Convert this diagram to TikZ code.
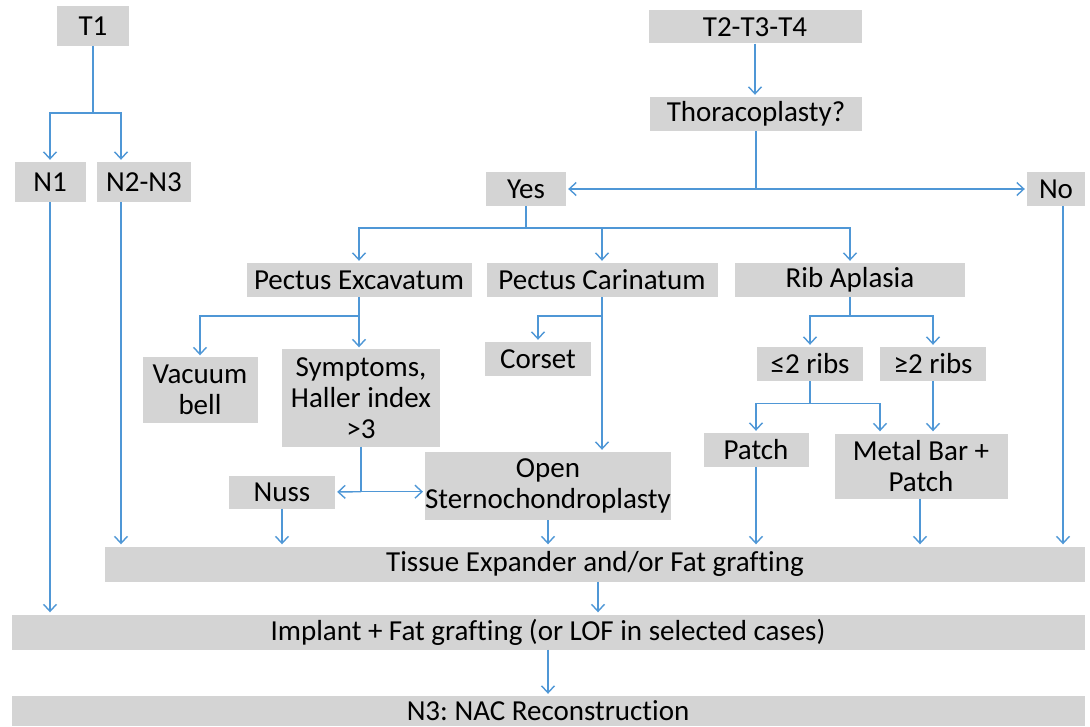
\documentclass[tikz,border=0pt]{standalone}
\usepackage{fontspec}
\setmainfont{Carlito}[Ligatures=NoCommon]
\usepackage{tikz}
\usetikzlibrary{arrows.meta,positioning}
\definecolor{boxGray}{RGB}{212,212,212}
\definecolor{flowBlue}{RGB}{79,151,214}
\frenchspacing

\begin{document}
\begin{tikzpicture}[x=1pt,y=-1pt,
    box/.style={fill=boxGray, inner sep=0pt, align=center,
        font=\fontsize{29}{31}\selectfont},
    flow/.style={draw=flowBlue, line width=1.4pt, shorten >=2pt,
        -{Straight Barb[length=7pt,width=13pt]}},
    link/.style={draw=flowBlue, line width=1.4pt}]
    \useasboundingbox (0,0) rectangle (1090,727);

    % left branch
    \node[box, minimum width=72, minimum height=40] (t1) at (93,26) {T1};
    \node[box, minimum width=71, minimum height=40] (n1) at (50,182) {N1};
    \node[box, minimum width=94, minimum height=40] (n23) at (144,182) {N2-N3};

    % right branch
    \node[box, minimum width=213, minimum height=33] (tt) at (755,27) {T2-T3-T4};
    \node[box, minimum width=212, minimum height=34] (thor) at (756,114) {Thoracoplasty?};
    \node[box, minimum width=80, minimum height=34] (yes) at (526,189) {Yes};
    \node[box, minimum width=58, minimum height=34] (no) at (1056,189) {No};

    % deformities
    \node[box, minimum width=225, minimum height=34] (pex) at (359,280) {Pectus Excavatum};
    \node[box, minimum width=231, minimum height=34] (pcar) at (602,280) {Pectus Carinatum};
    \node[box, minimum width=230, minimum height=34] (rib) at (850,280) {Rib Aplasia};

    % treatments
    \node[box, minimum width=115, minimum height=65] (vac) at (200,390) {Vacuum\\bell};
    \node[box, minimum width=158, minimum height=97] (sym) at (361,398) {Symptoms,\\Haller index\\>3};
    \node[box, minimum width=106, minimum height=34] (corset) at (538,359) {Corset};
    \node[box, minimum width=106, minimum height=34] (le2) at (810,364) {≤2 ribs};
    \node[box, minimum width=106, minimum height=34] (ge2) at (933,364) {≥2 ribs};
    \node[box, minimum width=105, minimum height=34] (patch) at (756,450) {Patch};
    \node[box, minimum width=173, minimum height=65] (metal) at (921,466) {Metal Bar +\\Patch};
    \node[box, minimum width=106, minimum height=33] (nuss) at (282,492) {Nuss};
    \node[box, minimum width=238, minimum height=68] (open) at (548,486) {Open\\Sternochondroplasty};

    % reconstruction
    \node[box, minimum width=980, minimum height=35] (tissue) at (595,564) {Tissue Expander and/or Fat grafting};
    \node[box, minimum width=1073, minimum height=35] (implant) at (548,632) {Implant + Fat grafting (or LOF in selected cases)};
    \node[box, minimum width=1073, minimum height=30] (nac) at (548,711) {N3: NAC Reconstruction};

    % T1 connectors
    \draw[link] (t1.south) -- ++(0,67) coordinate (t1split);
    \draw[flow] (t1split) -| (n1.north);
    \draw[flow] (t1split) -| ([xshift=-23pt]n23.north);
    \draw[flow] (n1.south) -- (n1.south |- implant.north);
    \draw[flow] ([xshift=-23pt]n23.south) -- ([xshift=-23pt]n23.south |- tissue.north);

    % T2-T3-T4 connectors
    \draw[flow] (tt.south) -- (tt.south |- thor.north);
    \draw[link] (thor.south) -- (thor.south |- yes.east) coordinate (thorsplit);
    \draw[flow] (thorsplit) -- (yes.east);
    \draw[flow] (thorsplit) -- (no.west);
    \draw[link] (yes.south) -- ++(0,22) coordinate (yessplit);
    \draw[flow] (yessplit) -| (pex.north);
    \draw[flow] (yessplit) -| (pcar.north);
    \draw[flow] (yessplit) -| (rib.north);

    % pectus excavatum
    \draw[link] (pex.south) -- ++(0,19) coordinate (pexsplit);
    \draw[flow] (pexsplit) -| (vac.north);
    \draw[flow] (pexsplit) -- (pexsplit |- sym.north);
    \draw[link] (sym.south) -- ++(0,45) coordinate (symsplit);
    \draw[flow] (symsplit) -- (nuss.east);
    \draw[flow] (symsplit) -- (symsplit -| open.west);

    % pectus carinatum
    \draw[link] (pcar.south) -- ++(0,19) coordinate (pcarsplit);
    \draw[flow] (pcarsplit) -| (corset.north);
    \draw[flow] (pcar.south) -- (pcar.south |- open.north);

    % rib aplasia
    \draw[link] (rib.south) -- ++(0,19) coordinate (ribsplit);
    \draw[flow] (ribsplit) -| (le2.north);
    \draw[flow] (ribsplit) -| (ge2.north);
    \draw[link] (le2.south) -- ++(0,22) coordinate (le2split);
    \draw[flow] (le2split) -| (patch.north);
    \draw[flow] (le2split) -| ([xshift=-41pt]metal.north);
    \draw[flow] (ge2.south) -- (ge2.south |- metal.north);

    % into tissue expander
    \draw[flow] (nuss.south) -- (nuss.south |- tissue.north);
    \draw[flow] (open.south) -- (open.south |- tissue.north);
    \draw[flow] (patch.south) -- (patch.south |- tissue.north);
    \draw[flow] ([xshift=-1pt]metal.south) -- ([xshift=-1pt]metal.south |- tissue.north);
    \draw[flow] ([xshift=7pt]no.south) -- ([xshift=7pt]no.south |- tissue.north);

    % bottom chain
    \draw[flow] ([xshift=3pt]tissue.south) -- ([xshift=3pt]tissue.south |- implant.north);
    \draw[flow] (implant.south) -- (implant.south |- nac.north);
\end{tikzpicture}
\end{document}
